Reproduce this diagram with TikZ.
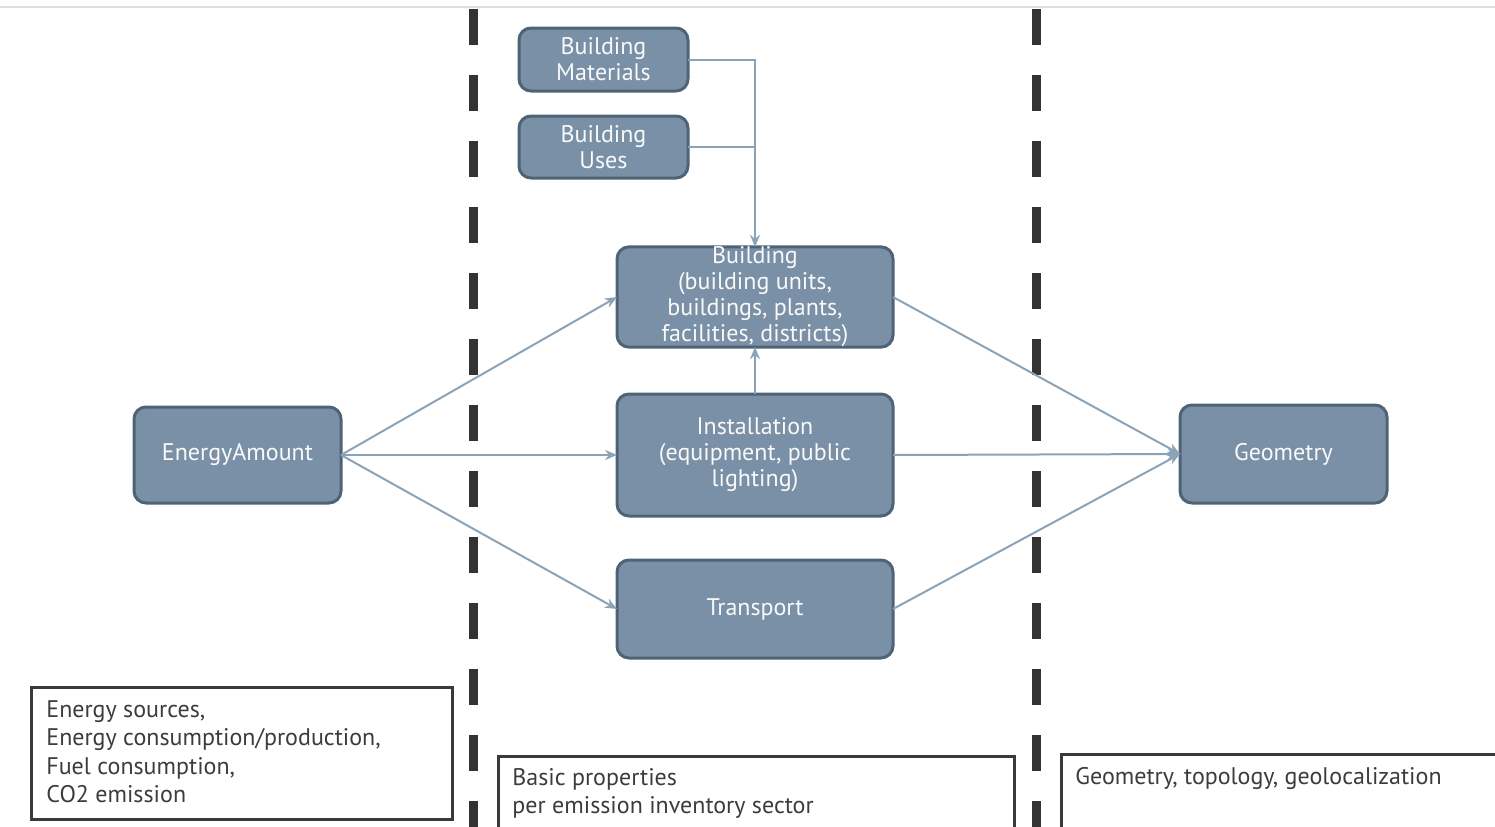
\documentclass[tikz,border=0pt]{standalone}
\usepackage{fontspec}
\setmainfont{PT Sans}
\usetikzlibrary{arrows.meta}
\definecolor{boxfill}{HTML}{7990A6}
\definecolor{boxedge}{HTML}{4F6376}
\definecolor{connc}{HTML}{8CA3B7}
\definecolor{dashc}{HTML}{333333}
\definecolor{framec}{HTML}{3A3A3A}
\definecolor{txtc}{HTML}{3C3C3C}
\tikzset{
  blk/.style={draw=boxedge, line width=1.5pt, fill=boxfill, rounded corners=6pt,
    text=white!95!gray, align=center, font=\fontsize{12}{13}\selectfont,
    inner sep=0pt, outer sep=0pt},
  conn/.style={draw=connc, line width=1pt, -{Stealth[length=6pt,width=5pt]}},
  plainconn/.style={draw=connc, line width=1pt},
  sep/.style={draw=dashc, line width=4.5pt, dash pattern=on 18pt off 15pt},
  frame/.style={draw=framec, line width=1.5pt},
  frametext/.style={text=txtc, align=left, anchor=north west, inner sep=0pt,
    font=\fontsize{12}{14.2}\selectfont}
}
\begin{document}
\begin{tikzpicture}[x=0.5pt, y=-0.5pt]
\useasboundingbox (0,0) rectangle (1495,826);
\clip (0,0) rectangle (1495,826);
% top rule
\draw[gray!25, line width=1pt] (0,7) -- (1495,7);
% separators
\draw[sep] (473,9) -- (473,840);
\draw[sep] (1036,9) -- (1036,840);
% nodes
\node[blk, minimum width=84.5pt, minimum height=31.5pt] (bm) at (603.5,59.5) {Building\\Materials};
\node[blk, minimum width=84.5pt, minimum height=31pt] (bu) at (603.5,147) {Building\\Uses};
\node[blk, minimum width=138pt, minimum height=50pt] (bld) at (755,297) {Building\\(building units,\\buildings, plants,\\facilities, districts)};
\node[blk, minimum width=138pt, minimum height=61pt] (inst) at (755,455) {Installation\\(equipment, public\\lighting)};
\node[blk, minimum width=138pt, minimum height=49pt] (tr) at (755,609) {Transport};
\node[blk, minimum width=103.5pt, minimum height=48pt] (ea) at (237.5,455) {EnergyAmount};
\node[blk, minimum width=103.5pt, minimum height=49pt] (geo) at (1283.5,454) {Geometry};
% connectors
\draw[conn] (bm.east) -| (bld.north);
\draw[plainconn] (bu.east) -- (bu.east -| bld.north);
\draw[conn] (inst.north) -- (bld.south);
\draw[conn] (ea.east) -- (bld.west);
\draw[conn] (ea.east) -- (inst.west);
\draw[conn] (ea.east) -- (tr.west);
\draw[conn] (bld.east) -- (geo.west);
\draw[conn] (inst.east) -- (geo.west);
\draw[conn] (tr.east) -- (geo.west);
% bottom frames
\node[frame, minimum width=210.5pt, minimum height=66pt, anchor=north west, inner sep=0pt] (f1) at (30,686) {};
\node[frametext] (t1) at (46,700) {Energy sources,\\Energy consumption/production,\\Fuel consumption,\\CO2 emission};
\node[frame, minimum width=258pt, minimum height=45pt, anchor=north west, inner sep=0pt] (f2) at (497,755) {};
\node[frametext] (t2) at (512,768) {Basic properties\\per emission inventory sector};
\node[frame, minimum width=230pt, minimum height=45pt, anchor=north west, inner sep=0pt] (f3) at (1060,753) {};
\node[frametext] (t3) at (1075,767) {Geometry, topology, geolocalization};
\end{tikzpicture}
\end{document}
